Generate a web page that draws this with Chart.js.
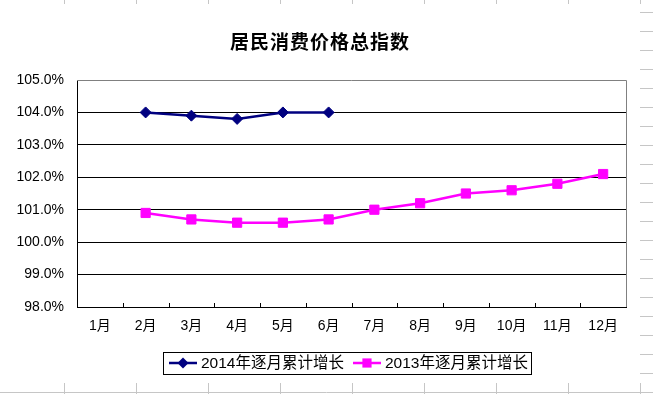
<!DOCTYPE html>
<html>
<head>
<meta charset="utf-8">
<script src="https://cdn.jsdelivr.net/npm/chart.js@4.4.1/dist/chart.umd.min.js"></script>
<style>
  html, body { margin: 0; padding: 0; background: #fff; overflow: hidden; }
  #wrap { width: 653px; height: 394px; position: relative; }
</style>
</head>
<body>
<div id="wrap"><canvas id="cpiChart"></canvas></div>
<script>
/* ── data ── */
const chartTitle = '居民消费价格总指数';
const months     = ['1月', '2月', '3月', '4月', '5月', '6月', '7月', '8月', '9月', '10月', '11月', '12月'];
const label2014  = '2014年逐月累计增长';
const label2013  = '2013年逐月累计增长';
const cpi2014    = [null, 104.0, 103.9, 103.8, 104.0, 104.0, null, null, null, null, null, null];
const cpi2013    = [null, 100.9, 100.7, 100.6, 100.6, 100.7, 101.0, 101.2, 101.5, 101.6, 101.8, 102.1];
const yMin = 98, yMax = 105, yStep = 1;

const FONT = "'Liberation Sans', 'Noto Sans CJK SC', sans-serif";

/* ── spreadsheet cells showing around the chart object ── */
const sheetGrid = {
  id: 'sheetGrid',
  beforeDraw(chart) {
    const ctx = chart.ctx, W = chart.width, H = chart.height;
    ctx.save();
    ctx.strokeStyle = '#c6c6c6';
    ctx.lineWidth = 1;
    ctx.beginPath();
    for (let x = 64; x <= W; x += 72) {
      ctx.moveTo(x + 0.5, 0); ctx.lineTo(x + 0.5, 4);
      ctx.moveTo(x + 0.5, 383); ctx.lineTo(x + 0.5, H);
    }
    for (let y = 12; y <= H; y += 19) {
      ctx.moveTo(640, y + 0.5); ctx.lineTo(W, y + 0.5);
    }
    ctx.moveTo(0, 392.5); ctx.lineTo(W, 392.5);
    ctx.stroke();
    ctx.restore();
  }
};

/* ── plot frame + inward category ticks ── */
const plotFrame = {
  id: 'plotFrame',
  beforeDatasetsDraw(chart) {
    const { ctx, chartArea: a } = chart;
    const xs = chart.scales.x;
    ctx.save();
    ctx.lineWidth = 1;
    ctx.strokeStyle = '#808080';
    ctx.beginPath();
    ctx.moveTo(Math.round(a.left), Math.round(a.top) + 0.5);
    ctx.lineTo(Math.round(a.right) + 0.5, Math.round(a.top) + 0.5);
    ctx.lineTo(Math.round(a.right) + 0.5, Math.round(a.bottom));
    ctx.stroke();
    ctx.strokeStyle = '#000';
    ctx.beginPath();
    const n = months.length, step = (xs.right - xs.left) / n;
    for (let i = 1; i < n; i++) {
      const x = Math.round(xs.left + i * step) + 0.5;
      ctx.moveTo(x, a.bottom - 4); ctx.lineTo(x, a.bottom);
    }
    ctx.stroke();
    ctx.restore();
  }
};

/* ── marker helper ── */
function drawMarker(ctx, style, x, y, r, color) {
  ctx.fillStyle = color;
  ctx.beginPath();
  if (style === 'rectRot') {
    ctx.moveTo(x, y - r); ctx.lineTo(x + r, y); ctx.lineTo(x, y + r); ctx.lineTo(x - r, y);
  } else {
    const s = Math.SQRT1_2 * r;
    ctx.rect(x - s, y - s, 2 * s, 2 * s);
  }
  ctx.closePath();
  ctx.fill();
}

/* ── title + boxed legend ── */
const titleLegend = {
  id: 'titleLegend',
  afterDraw(chart) {
    const ctx = chart.ctx;
    ctx.save();
    ctx.fillStyle = '#000';
    ctx.font = 'bold 19px ' + FONT;
    ctx.letterSpacing = '1px';
    ctx.textAlign = 'center';
    ctx.textBaseline = 'middle';
    ctx.fillText(chartTitle, 320, 44);

    ctx.letterSpacing = '0px';
    ctx.font = '15.5px ' + FONT;
    ctx.textAlign = 'left';
    const sample = 28, gapS = 4, gapItem = 9, padL = 6, padR = 3;
    const items = chart.data.datasets.map(ds => ({
      text: ds.label, color: ds.borderColor, style: ds.pointStyle, r: ds.pointRadius,
      w: ctx.measureText(ds.label).width
    }));
    let total = padL + padR;
    items.forEach((it, i) => { total += sample + gapS + it.w + (i ? gapItem : 0); });
    const cx = 347, top = 352, h = 22, yMid = top + h / 2;
    let x = Math.round(cx - total / 2);
    ctx.strokeStyle = '#000';
    ctx.lineWidth = 1;
    ctx.strokeRect(x + 0.5, top + 0.5, Math.round(total), h);
    x += padL;
    items.forEach((it, i) => {
      if (i) x += gapItem;
      ctx.strokeStyle = it.color;
      ctx.lineWidth = 2.5;
      ctx.beginPath();
      ctx.moveTo(x, yMid); ctx.lineTo(x + sample, yMid);
      ctx.stroke();
      drawMarker(ctx, it.style, x + sample / 2, yMid, it.r, it.color);
      x += sample + gapS;
      ctx.fillStyle = '#000';
      ctx.fillText(it.text, x, yMid + 1);
      x += it.w;
    });
    ctx.restore();
  }
};

/* ── chart ── */
const ctx = document.getElementById('cpiChart').getContext('2d');
new Chart(ctx, {
  type: 'line',
  data: {
    labels: months,
    datasets: [
      {
        label: label2014,
        data: cpi2014,
        borderColor: '#000080',
        backgroundColor: '#000080',
        borderWidth: 2.5,
        pointStyle: 'rectRot',
        pointRadius: 5.5,
        pointBorderWidth: 1,
        tension: 0,
        spanGaps: false
      },
      {
        label: label2013,
        data: cpi2013,
        borderColor: '#ff00ff',
        backgroundColor: '#ff00ff',
        borderWidth: 2.5,
        pointStyle: 'rect',
        pointRadius: 6.5,
        pointBorderWidth: 1,
        tension: 0,
        spanGaps: false
      }
    ]
  },
  options: {
    responsive: true,
    maintainAspectRatio: false,
    animation: false,
    devicePixelRatio: 1,
    layout: { padding: { top: 80, left: 0, right: 27, bottom: 0 } },
    plugins: {
      legend: { display: false },
      title: { display: false },
      tooltip: { enabled: false }
    },
    scales: {
      x: {
        type: 'category',
        offset: true,
        grid: { display: false, drawTicks: false },
        border: { display: true, color: '#000', width: 1 },
        ticks: { color: '#000', font: { family: FONT, size: 14 }, padding: 11, maxRotation: 0, autoSkip: false },
        afterFit: s => { s.height = 87; }
      },
      y: {
        min: yMin,
        max: yMax,
        grid: {
          color: c => (c.tick && c.tick.value === yMax ? 'rgba(0,0,0,0)' : '#000'),
          lineWidth: 1,
          drawTicks: false
        },
        border: { display: true, color: '#000', width: 1 },
        ticks: {
          stepSize: yStep,
          color: '#000',
          padding: 13,
          font: { family: FONT, size: 14 },
          callback: v => v.toFixed(1) + '%'
        },
        afterFit: s => { s.width = 77; }
      }
    }
  },
  plugins: [sheetGrid, plotFrame, titleLegend]
});
</script>
</body>
</html>
